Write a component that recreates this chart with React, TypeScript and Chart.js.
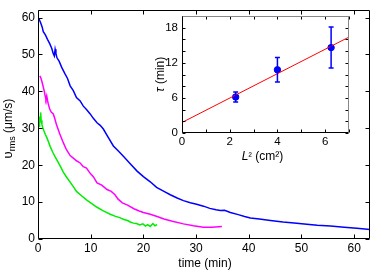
import { useEffect, useRef } from 'react';
import { Chart, registerables } from 'chart.js';
Chart.register(...registerables);

const FONT = '"Liberation Sans", Arial, Helvetica, sans-serif';

// ---- main panel: v_rms (µm/s) vs time (min) ----
const blueTime = [0.2, 0.5, 0.8, 1.0, 1.4, 1.8, 2.2, 2.6, 2.9, 3.1, 3.25, 3.4, 3.6, 4.0, 4.5, 5.1, 5.6, 6.1, 6.7, 7.3, 8.0, 8.6, 9.2, 9.9, 10.5, 11.2, 11.8, 12.4, 13.3, 14.3, 15.2, 16.2, 17.5, 18.8, 20.0, 21.3, 22.5, 23.9, 25.1, 26.4, 27.6, 28.9, 30.1, 31.4, 32.6, 33.8, 34.6, 35.4, 36.5, 38.0, 39.2, 40.3, 42.0, 44.1, 46.5, 49.1, 51.0, 53.0, 55.5, 58.1, 60.5, 63.0];
const blueVrms = [59.6, 58.6, 57.4, 56.2, 55.3, 54.1, 53.0, 51.7, 50.2, 49.6, 51.4, 50.3, 49.1, 48.2, 46.5, 44.8, 43.5, 41.5, 40.2, 38.3, 37.4, 36.0, 35.1, 33.9, 32.7, 31.5, 30.8, 29.8, 27.6, 25.2, 23.9, 22.4, 20.4, 18.4, 16.9, 15.5, 14.0, 12.9, 12.0, 11.1, 10.4, 9.8, 9.4, 8.9, 8.3, 7.9, 7.7, 7.8, 7.2, 6.6, 6.1, 5.7, 5.4, 5.0, 4.6, 4.3, 4.0, 3.7, 3.5, 3.2, 2.9, 2.6];

const magentaTime = [0.35, 0.55, 0.75, 1.0, 1.2, 1.35, 1.5, 1.65, 1.8, 1.95, 2.2, 2.5, 2.9, 3.2, 3.5, 4.1, 4.8, 5.4, 6.1, 6.7, 7.3, 8.0, 8.6, 9.2, 9.9, 10.5, 11.2, 12.1, 13.1, 13.9, 14.6, 15.2, 16.0, 17.0, 18.2, 19.2, 20.0, 21.3, 22.6, 23.9, 25.5, 27.6, 29.5, 31.4, 33.0, 34.9];
const magentaVrms = [44.2, 43.6, 42.6, 41.2, 40.0, 38.8, 37.9, 38.8, 37.6, 36.6, 35.3, 34.4, 33.9, 32.6, 31.0, 28.6, 26.1, 24.2, 22.6, 21.9, 21.2, 20.6, 19.6, 19.2, 17.8, 16.9, 15.2, 14.6, 13.4, 12.9, 12.0, 10.8, 9.8, 9.2, 8.2, 7.6, 7.2, 6.7, 6.1, 5.4, 4.8, 4.1, 3.6, 3.2, 3.2, 3.4];

const greenTime = [0.2, 0.3, 0.4, 0.5, 0.6, 0.75, 0.9, 1.1, 1.4, 1.7, 2.0, 2.3, 2.8, 3.2, 3.6, 4.2, 4.8, 5.4, 6.1, 6.7, 7.3, 8.2, 9.2, 10.2, 11.2, 12.4, 13.7, 14.6, 15.5, 16.3, 17.0, 17.5, 18.1, 18.7, 19.3, 19.9, 20.4, 20.8, 21.3, 21.8, 22.2, 22.6];
const greenVrms = [30.5, 33.2, 31.8, 34.3, 32.2, 31.0, 30.2, 29.4, 28.3, 27.4, 26.3, 25.1, 23.5, 22.4, 21.4, 19.8, 18.1, 16.8, 15.4, 14.2, 12.9, 11.8, 10.6, 9.6, 8.6, 7.6, 6.7, 6.2, 5.8, 5.3, 5.0, 4.6, 4.3, 4.2, 3.8, 4.1, 3.5, 3.9, 3.4, 4.2, 3.6, 3.9];

const mainXMax = 63;
const mainYMax = 62;
const mainXTicks = [0, 10, 20, 30, 40, 50, 60];
const mainYTicks = [0, 10, 20, 30, 40, 50, 60];

// ---- inset: tau (min) vs L^2 (cm^2) ----
const insetL2 = [2.25, 4, 6.25];
const insetTau = [6.15, 10.8, 14.6];
const insetTauLow = [5.3, 8.7, 11.1];
const insetTauHigh = [7.0, 12.9, 18.1];
const fitL2 = [0, 7];
const fitTau = [1.8, 16.4];
const insetXMax = 7;
const insetYMax = 20;
const insetXTicks = [0, 1, 2, 3, 4, 5, 6, 7];
const insetXLabels = [0, 2, 4, 6];
const insetYTicks = [0, 2, 4, 6, 8, 10, 12, 14, 16, 18, 20];
const insetYLabels = [0, 6, 12, 18];

const zip = (xs: number[], ys: number[]) => xs.map((x, i) => ({ x, y: ys[i] }));

type Part = { t: string; size: number; dy?: number; italic?: boolean };
function drawParts(ctx: CanvasRenderingContext2D, parts: Part[], cx: number, cy: number) {
  const font = (p: Part) => `${p.italic ? 'italic ' : ''}${p.size}px ${FONT}`;
  let total = 0;
  const widths = parts.map((p) => {
    ctx.font = font(p);
    const w = ctx.measureText(p.t).width;
    total += w;
    return w;
  });
  let x = cx - total / 2;
  ctx.textAlign = 'left';
  ctx.textBaseline = 'alphabetic';
  parts.forEach((p, i) => {
    ctx.font = font(p);
    ctx.fillText(p.t, x, cy + (p.dy || 0));
    x += widths[i];
  });
}

const mainPlugin = {
  id: 'mainFrame',
  afterDraw(chart: any) {
    const { ctx, chartArea: a, scales } = chart;
    const xs = scales.x;
    const ys = scales.y;
    ctx.save();
    ctx.strokeStyle = '#000';
    ctx.lineWidth = 1;
    ctx.beginPath();
    const L = Math.round(a.left) + 0.5;
    const R = Math.round(a.right) - 0.5;
    const T = Math.round(a.top) + 0.5;
    const B = Math.round(a.bottom) - 0.5;
    ctx.rect(L, T, R - L, B - T);
    const tl = 4;
    xs.ticks.forEach((t: any) => {
      const px = Math.round(xs.getPixelForValue(t.value)) + 0.5;
      ctx.moveTo(px, B); ctx.lineTo(px, B - tl);
      ctx.moveTo(px, T); ctx.lineTo(px, T + tl);
    });
    ys.ticks.forEach((t: any) => {
      const py = Math.round(ys.getPixelForValue(t.value)) + 0.5;
      ctx.moveTo(L, py); ctx.lineTo(L + tl, py);
      ctx.moveTo(R, py); ctx.lineTo(R - tl, py);
    });
    ctx.stroke();
    ctx.fillStyle = '#000';
    drawParts(ctx, [{ t: 'time (min)', size: 12 }], (a.left + a.right) / 2 + 1, 267);
    ctx.translate(12, (a.top + a.bottom) / 2 + 4);
    ctx.rotate(-Math.PI / 2);
    drawParts(ctx, [
      { t: 'υ', size: 13 },
      { t: 'rms', size: 9, dy: 3 },
      { t: ' (μm/s)', size: 12 },
    ], 0, 0);
    ctx.restore();
  },
};

const insetPlugin = {
  id: 'insetFrame',
  beforeDraw(chart: any) {
    const { ctx, chartArea: a } = chart;
    ctx.save();
    ctx.fillStyle = '#fff';
    ctx.fillRect(a.left, a.top, a.right - a.left, a.bottom - a.top);
    ctx.restore();
  },
  afterDatasetsDraw(chart: any) {
    const { ctx, scales } = chart;
    const xs = scales.x;
    const ys = scales.y;
    ctx.save();
    ctx.strokeStyle = '#0000ff';
    ctx.lineWidth = 1.5;
    ctx.beginPath();
    insetL2.forEach((l, i) => {
      const px = xs.getPixelForValue(l);
      const lo = ys.getPixelForValue(insetTauLow[i]);
      const hi = ys.getPixelForValue(insetTauHigh[i]);
      ctx.moveTo(px, lo); ctx.lineTo(px, hi);
      ctx.moveTo(px - 2.5, lo); ctx.lineTo(px + 2.5, lo);
      ctx.moveTo(px - 2.5, hi); ctx.lineTo(px + 2.5, hi);
    });
    ctx.stroke();
    ctx.restore();
  },
  afterDraw(chart: any) {
    const { ctx, chartArea: a, scales } = chart;
    const xs = scales.x;
    const ys = scales.y;
    ctx.save();
    ctx.lineWidth = 1;
    const L = Math.round(a.left) + 0.5;
    const R = Math.round(a.right) - 0.5;
    const T = Math.round(a.top) + 0.5;
    const B = Math.round(a.bottom) - 0.5;
    ctx.strokeStyle = '#000';
    ctx.beginPath();
    const tl = 3;
    xs.ticks.forEach((t: any) => {
      const px = Math.round(xs.getPixelForValue(t.value)) + 0.5;
      ctx.moveTo(px, B); ctx.lineTo(px, B - tl);
      ctx.moveTo(px, T); ctx.lineTo(px, T + tl);
    });
    ys.ticks.forEach((t: any) => {
      const py = Math.round(ys.getPixelForValue(t.value)) + 0.5;
      ctx.moveTo(L, py); ctx.lineTo(L + tl, py);
      ctx.moveTo(R, py); ctx.lineTo(R - tl, py);
    });
    ctx.stroke();
    ctx.strokeStyle = '#888';
    ctx.beginPath();
    ctx.moveTo(L, T); ctx.lineTo(R, T); ctx.lineTo(R, B);
    ctx.stroke();
    ctx.strokeStyle = '#000';
    ctx.beginPath();
    ctx.moveTo(L, T); ctx.lineTo(L, B); ctx.lineTo(R, B);
    ctx.stroke();
    ctx.fillStyle = '#000';
    drawParts(ctx, [
      { t: 'L', size: 12, italic: true },
      { t: '²', size: 10, dy: -1 },
      { t: ' (cm²)', size: 12 },
    ], (a.left + a.right) / 2 - 3, 160);
    ctx.translate(24, (a.top + a.bottom) / 2);
    ctx.rotate(-Math.PI / 2);
    drawParts(ctx, [
      { t: 'τ', size: 13, italic: true },
      { t: ' (min)', size: 12 },
    ], 0, 0);
    ctx.restore();
  },
};

export default function App() {
  const mainRef = useRef<HTMLCanvasElement>(null);
  const insetRef = useRef<HTMLCanvasElement>(null);

  useEffect(() => {
    const tickFont = { family: FONT, size: 12 };
    const insetFont = { family: FONT, size: 11.5 };
    const main = new Chart(mainRef.current as HTMLCanvasElement, {
      type: 'line',
      data: {
        datasets: [
          { data: zip(blueTime, blueVrms), borderColor: '#0000ff', borderWidth: 1.5, pointRadius: 0, fill: false },
          { data: zip(magentaTime, magentaVrms), borderColor: '#ff00ff', borderWidth: 1.5, pointRadius: 0, fill: false },
          { data: zip(greenTime, greenVrms), borderColor: '#00ee00', borderWidth: 1.5, pointRadius: 0, fill: false },
        ],
      },
      options: {
        animation: false,
        responsive: false,
        devicePixelRatio: 1,
        layout: { padding: { left: 0, right: 4, top: 3, bottom: 0 } },
        plugins: { legend: { display: false }, tooltip: { enabled: false }, title: { display: false } },
        scales: {
          x: {
            type: 'linear', min: 0, max: mainXMax,
            ticks: { font: tickFont, color: '#000', padding: 2, maxRotation: 0, autoSkip: false },
            afterBuildTicks: (s: any) => { s.ticks = mainXTicks.map((v) => ({ value: v })); },
            grid: { display: false, drawTicks: false },
            border: { display: false },
            afterFit: (s: any) => { s.height = 32; },
          },
          y: {
            type: 'linear', min: 0, max: mainYMax,
            ticks: { font: tickFont, color: '#000', padding: 3, autoSkip: false },
            afterBuildTicks: (s: any) => { s.ticks = mainYTicks.map((v) => ({ value: v })); },
            grid: { display: false, drawTicks: false },
            border: { display: false },
            afterFit: (s: any) => { s.width = 38; },
          },
        },
      },
      plugins: [mainPlugin],
    } as any);

    const inset = new Chart(insetRef.current as HTMLCanvasElement, {
      type: 'line',
      data: {
        datasets: [
          { data: zip(fitL2, fitTau), borderColor: '#ff0000', borderWidth: 1, pointRadius: 0, fill: false },
          { data: zip(insetL2, insetTau), showLine: false, pointRadius: 3.2, pointBackgroundColor: '#0000ff', pointBorderColor: '#0000ff', borderColor: '#0000ff' },
        ],
      },
      options: {
        animation: false,
        responsive: false,
        devicePixelRatio: 1,
        layout: { padding: { left: 0, right: 25, top: 16, bottom: 0 } },
        plugins: { legend: { display: false }, tooltip: { enabled: false }, title: { display: false } },
        scales: {
          x: {
            type: 'linear', min: 0, max: insetXMax,
            ticks: { font: insetFont, color: '#000', padding: 2, maxRotation: 0, autoSkip: false,
              callback: (v: any) => (insetXLabels.includes(v) ? String(v) : '') },
            afterBuildTicks: (s: any) => { s.ticks = insetXTicks.map((v) => ({ value: v })); },
            grid: { display: false, drawTicks: false },
            border: { display: false },
            afterFit: (s: any) => { s.height = 32; },
          },
          y: {
            type: 'linear', min: 0, max: insetYMax,
            ticks: { font: insetFont, color: '#000', padding: 4, autoSkip: false,
              callback: (v: any) => (insetYLabels.includes(v) ? String(v) : '') },
            afterBuildTicks: (s: any) => { s.ticks = insetYTicks.map((v) => ({ value: v })); },
            grid: { display: false, drawTicks: false },
            border: { display: false },
            afterFit: (s: any) => { s.width = 42; },
          },
        },
      },
      plugins: [insetPlugin],
    } as any);

    return () => {
      main.destroy();
      inset.destroy();
    };
  }, []);

  return (
    <div style={{ position: 'fixed', left: 0, top: 0, width: 374, height: 271, background: '#fff' }}>
      <canvas ref={mainRef} width={374} height={271} style={{ position: 'absolute', left: 0, top: 0, width: 374, height: 271 }} />
      <canvas ref={insetRef} width={234} height={165} style={{ position: 'absolute', left: 140, top: 0, width: 234, height: 165 }} />
    </div>
  );
}
